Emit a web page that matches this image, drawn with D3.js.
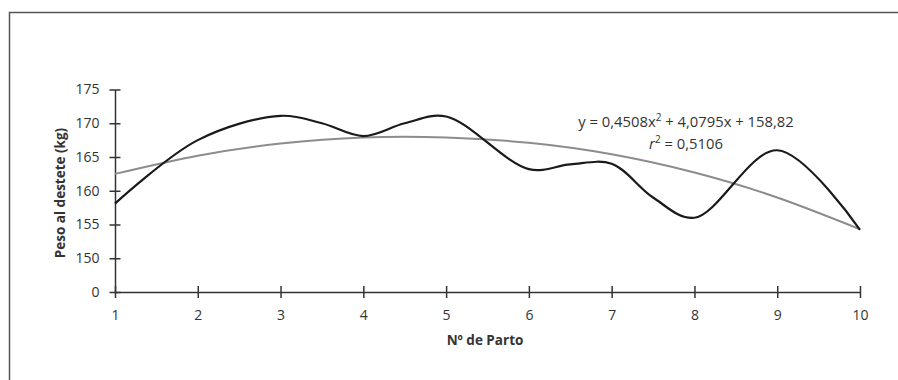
<!DOCTYPE html>
<html>
<head>
<meta charset="utf-8">
<script src="https://cdn.jsdelivr.net/npm/d3@7"></script>
<style>
  body { margin: 0; background: #fff; }
  text { font-family: "Open Sans", "Liberation Sans", sans-serif; fill: #333; }
</style>
</head>
<body>
<div id="chart"></div>
<script>
// observed weights (black smoothed line)
var partoX = [1, 2, 3, 3.5, 4, 4.5, 5, 6, 6.5, 7, 7.5, 8, 9, 10];
var peso = [158.1, 167.5, 171.1, 170.0, 168.1, 170.0, 171.0, 163.2, 163.9, 164.0, 159.0, 156.0, 166.0, 154.2];

// polynomial trend (grey line)
var trendX = [1, 2, 3, 4, 5, 6, 7, 8, 9, 10];
var trendY = [162.5, 165.2, 167.0, 167.9, 167.9, 167.1, 165.4, 162.7, 159.0, 154.3];

var xTicks = [1, 2, 3, 4, 5, 6, 7, 8, 9, 10];
var yTicks = [145, 150, 155, 160, 165, 170, 175];
var yTickLabels = ["0", "150", "155", "160", "165", "170", "175"];

var width = 898, height = 380;
var margin = {top: 89.5, right: 38, bottom: 88, left: 115};

var svg = d3.select("#chart")
    .append("svg")
    .attr("width", width)
    .attr("height", height);

// outer frame (runs off the right/bottom edges)
svg.append("rect")
    .attr("x", 9.5)
    .attr("y", 12.5)
    .attr("width", 1000)
    .attr("height", 1000)
    .attr("fill", "none")
    .attr("stroke", "#555")
    .attr("stroke-width", 1.5);

var x = d3.scaleLinear()
    .domain([1, 10])
    .range([margin.left, width - margin.right]);

var y = d3.scaleLinear()
    .domain([145, 175])
    .range([height - margin.bottom, margin.top]);

// axes
var xAxis = svg.append("g")
    .attr("transform", "translate(0," + y(145) + ")")
    .call(d3.axisBottom(x).tickValues(xTicks).tickSize(6).tickSizeOuter(0).tickPadding(12));
xAxis.selectAll(".tick line").attr("y1", -6);

var yAxis = svg.append("g")
    .attr("transform", "translate(" + x(1) + ",0)")
    .call(d3.axisLeft(y).tickValues(yTicks).tickFormat(function (d, i) {
        return yTickLabels[i];
    }).tickSize(5.5).tickSizeOuter(0).tickPadding(10));
yAxis.selectAll(".tick line").attr("x1", 5.5);

svg.selectAll(".domain, .tick line")
    .attr("stroke", "#333")
    .attr("stroke-width", 1.5);
svg.selectAll(".tick text")
    .style("font-size", "14px")
    .attr("fill", "#333");

// trend line
svg.append("path")
    .datum(trendX.map(function (d, i) { return [d, trendY[i]]; }))
    .attr("fill", "none")
    .attr("stroke", "#8c8c8c")
    .attr("stroke-width", 2)
    .attr("d", d3.line()
        .x(function (d) { return x(d[0]); })
        .y(function (d) { return y(d[1]); })
        .curve(d3.curveNatural));

// observed line
svg.append("path")
    .datum(partoX.map(function (d, i) { return [d, peso[i]]; }))
    .attr("fill", "none")
    .attr("stroke", "#1a1a1a")
    .attr("stroke-width", 2.2)
    .attr("d", d3.line()
        .x(function (d) { return x(d[0]); })
        .y(function (d) { return y(d[1]); })
        .curve(d3.curveCatmullRom.alpha(0.5)));

// equation
var eq = svg.append("text")
    .attr("x", 686)
    .attr("y", 127)
    .attr("text-anchor", "middle")
    .style("font-size", "14.8px");
eq.append("tspan").text("y = 0,4508x");
eq.append("tspan").attr("dy", -6).style("font-size", "10px").text("2");
eq.append("tspan").attr("dy", 6).text(" + 4,0795x + 158,82");

var r2 = svg.append("text")
    .attr("x", 686)
    .attr("y", 149)
    .attr("text-anchor", "middle")
    .style("font-size", "14.8px");
r2.append("tspan").style("font-style", "italic").text("r");
r2.append("tspan").attr("dy", -6).style("font-size", "10px").text("2");
r2.append("tspan").attr("dy", 6).text(" = 0,5106");

// axis titles
svg.append("text")
    .attr("x", 485)
    .attr("y", 345)
    .attr("text-anchor", "middle")
    .style("font-size", "13.5px")
    .style("font-weight", "bold")
    .text("Nº de Parto");

svg.append("text")
    .attr("transform", "translate(65,193) rotate(-90)")
    .attr("text-anchor", "middle")
    .style("font-size", "13.5px")
    .style("font-weight", "bold")
    .text("Peso al destete (kg)");
</script>
</body>
</html>
